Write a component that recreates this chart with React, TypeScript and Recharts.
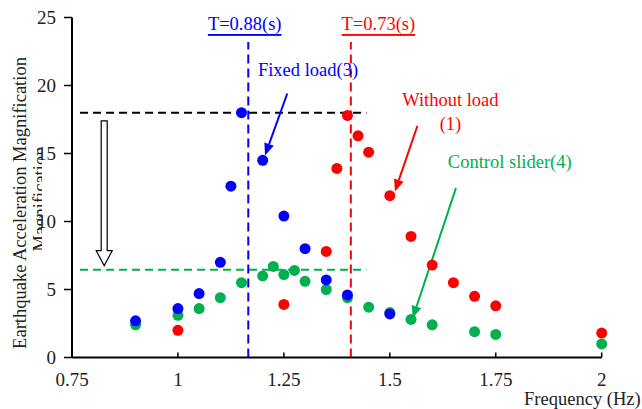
import { ScatterChart, Scatter, XAxis, YAxis, ReferenceLine, ReferenceDot } from "recharts"

// Frequency (Hz) vs magnification
const fixedFreq = [0.9, 1.0, 1.05, 1.1, 1.125, 1.15, 1.2, 1.25, 1.3, 1.35, 1.4, 1.5]
const fixedMag = [2.7, 3.6, 4.7, 7.0, 12.6, 18.0, 14.5, 10.4, 8.0, 5.7, 4.6, 3.2]

const noLoadFreq = [1.0, 1.25, 1.35, 1.375, 1.4, 1.425, 1.45, 1.5, 1.55, 1.6, 1.65, 1.7, 1.75, 2.0]
const noLoadMag = [2.0, 3.9, 7.8, 13.9, 17.8, 16.3, 15.1, 11.9, 8.9, 6.8, 5.5, 4.5, 3.8, 1.8]

const sliderFreq = [0.9, 1.0, 1.05, 1.1, 1.15, 1.2, 1.225, 1.25, 1.275, 1.3, 1.35, 1.4, 1.45, 1.5, 1.55, 1.6, 1.7, 1.75, 2.0]
const sliderMag = [2.4, 3.1, 3.6, 4.4, 5.5, 6.0, 6.7, 6.1, 6.4, 5.6, 5.0, 4.4, 3.7, 3.3, 2.8, 2.4, 1.9, 1.7, 1.0]

const xTicks = [0.75, 1, 1.25, 1.5, 1.75, 2]
const yTicks = [0, 5, 10, 15, 20, 25]

// resonance lines and levels
const fixedResonance = 1.166
const noLoadResonance = 1.408
const peakLevel = 18
const controlledLevel = 6.45

const BLUE = "#0000FF"
const RED = "#FF0000"
const GREEN = "#00B050"
const FONT = "Liberation Serif, DejaVu Serif, serif"
const TXT = 18.5
const TICK = 19

const toPoints = (xs: number[], ys: number[]) => xs.map((x, i) => ({ x, y: ys[i] }))

const dot = (color: string) => (p: any) => <circle cx={p.cx} cy={p.cy} r={5.5} fill={color} />

const arrowShape = (color: string) => (p: any) => {
  const { x1, y1, x2, y2 } = p
  const ang = Math.atan2(y2 - y1, x2 - x1)
  const len = 12
  const half = 5
  const bx = x2 - len * Math.cos(ang)
  const by = y2 - len * Math.sin(ang)
  const nx = -Math.sin(ang) * half
  const ny = Math.cos(ang) * half
  return (
    <g>
      <line x1={x1} y1={y1} x2={bx} y2={by} stroke={color} strokeWidth={2} />
      <polygon points={`${x2},${y2} ${bx + nx},${by + ny} ${bx - nx},${by - ny}`} fill={color} />
    </g>
  )
}

const hollowArrow = (p: any) => {
  const { x1, y1, y2 } = p
  const sw = 3
  const hw = 8
  const hl = 15
  const pts = [
    [x1 - sw, y1], [x1 + sw, y1], [x1 + sw, y2 - hl], [x1 + hw, y2 - hl],
    [x1, y2], [x1 - hw, y2 - hl], [x1 - sw, y2 - hl],
  ].map((q) => q.join(",")).join(" ")
  return <polygon points={pts} fill="#fff" stroke="#000" strokeWidth={1.2} />
}

const textShape = (text: string, color: string, underline = false) => (p: any) => (
  <text
    x={p.cx}
    y={p.cy}
    textAnchor="middle"
    dominantBaseline="central"
    fill={color}
    style={{ fontSize: TXT, fontFamily: FONT, textDecoration: underline ? "underline" : "none" }}
  >
    {text}
  </text>
)

const XTick = (p: any) => (
  <g>
    <line x1={p.x} y1={p.y} x2={p.x} y2={p.y - 5} stroke="#000" strokeWidth={1.5} />
    <text x={p.x} y={p.y + 28} textAnchor="middle" fill="#222" style={{ fontSize: TICK, fontFamily: FONT }}>
      {p.payload.value}
    </text>
  </g>
)

const YLabel = () => (
  <g fill="#222" style={{ fontSize: TXT, fontFamily: FONT }}>
    <defs>
      <clipPath id="ylab-clip">
        <rect x={0} y={0} width={42} height={409} />
      </clipPath>
    </defs>
    <text x={26} y={203} transform="rotate(-90 26 203)" textAnchor="middle">
      Earthquake Acceleration Magnification
    </text>
    <g clipPath="url(#ylab-clip)">
      <text x={46} y={199} transform="rotate(-90 46 199)" textAnchor="middle">
        Magnification
      </text>
    </g>
  </g>
)

const XLabel = (p: any) => {
  const vb = p.viewBox
  return (
    <text x={vb.x + vb.width + 39} y={405} textAnchor="end" fill="#222" style={{ fontSize: TXT, fontFamily: FONT }}>
      Frequency (Hz)
    </text>
  )
}

export default function App() {
  return (
    <div style={{ position: "absolute", left: 0, top: 0, width: 642, height: 409, background: "#fff", fontFamily: FONT }}>
      <ScatterChart width={642} height={409} margin={{ top: 17.5, right: 40.3, left: 10, bottom: 11.5 }}>
        <XAxis
          type="number"
          dataKey="x"
          domain={[0.75, 2]}
          ticks={xTicks}
          tickSize={0}
          tickMargin={0}
          tickLine={false}
          tick={<XTick />}
          axisLine={{ stroke: "#000", strokeWidth: 2 }}
          height={40}
          label={{ content: <XLabel /> }}
        />
        <YAxis
          type="number"
          dataKey="y"
          domain={[0, 25]}
          ticks={yTicks}
          width={62}
          tickSize={8}
          tickMargin={8}
          tickLine={{ stroke: "#000", strokeWidth: 1.5 }}
          axisLine={{ stroke: "#000", strokeWidth: 2 }}
          tick={{ fill: "#222", fontSize: TICK, fontFamily: FONT }}
          label={{ content: <YLabel /> }}
        />

        <ReferenceLine segment={[{ x: 0.769, y: peakLevel }, { x: 1.445, y: peakLevel }]} stroke="#000" strokeWidth={2} strokeDasharray="8 5" />
        <ReferenceLine segment={[{ x: 0.769, y: controlledLevel }, { x: 1.445, y: controlledLevel }]} stroke={GREEN} strokeWidth={2} strokeDasharray="8 5" />
        <ReferenceLine segment={[{ x: fixedResonance, y: 0 }, { x: fixedResonance, y: 23.2 }]} stroke={BLUE} strokeWidth={2} strokeDasharray="9 5" />
        <ReferenceLine segment={[{ x: noLoadResonance, y: 0 }, { x: noLoadResonance, y: 23.2 }]} stroke={RED} strokeWidth={2} strokeDasharray="9 5" />

        <ReferenceLine segment={[{ x: 0.826, y: 17.4 }, { x: 0.826, y: 6.75 }]} shape={hollowArrow} />

        <Scatter data={toPoints(noLoadFreq, noLoadMag)} fill={RED} shape={dot(RED)} isAnimationActive={false} />
        <Scatter data={toPoints(sliderFreq, sliderMag)} fill={GREEN} shape={dot(GREEN)} isAnimationActive={false} />
        <Scatter data={toPoints(fixedFreq, fixedMag)} fill={BLUE} shape={dot(BLUE)} isAnimationActive={false} />

        <ReferenceLine segment={[{ x: 1.258, y: 19.41 }, { x: 1.2055, y: 14.86 }]} shape={arrowShape(BLUE)} />
        <ReferenceLine segment={[{ x: 1.565, y: 17.02 }, { x: 1.512, y: 12.21 }]} shape={arrowShape(RED)} />
        <ReferenceLine segment={[{ x: 1.656, y: 12.45 }, { x: 1.554, y: 2.9 }]} shape={arrowShape(GREEN)} />

        <ReferenceDot x={1.1576} y={24.52} r={0} shape={textShape("T=0.88(s)", BLUE, true)} />
        <ReferenceDot x={1.473} y={24.52} r={0} shape={textShape("T=0.73(s)", RED, true)} />
        <ReferenceDot x={1.307} y={21.13} r={0} shape={textShape("Fixed load(3)", BLUE)} />
        <ReferenceDot x={1.643} y={18.97} r={0} shape={textShape("Without load", RED)} />
        <ReferenceDot x={1.643} y={17.2} r={0} shape={textShape("(1)", RED)} />
        <ReferenceDot x={1.783} y={14.37} r={0} shape={textShape("Control slider(4)", GREEN)} />
      </ScatterChart>
    </div>
  )
}
